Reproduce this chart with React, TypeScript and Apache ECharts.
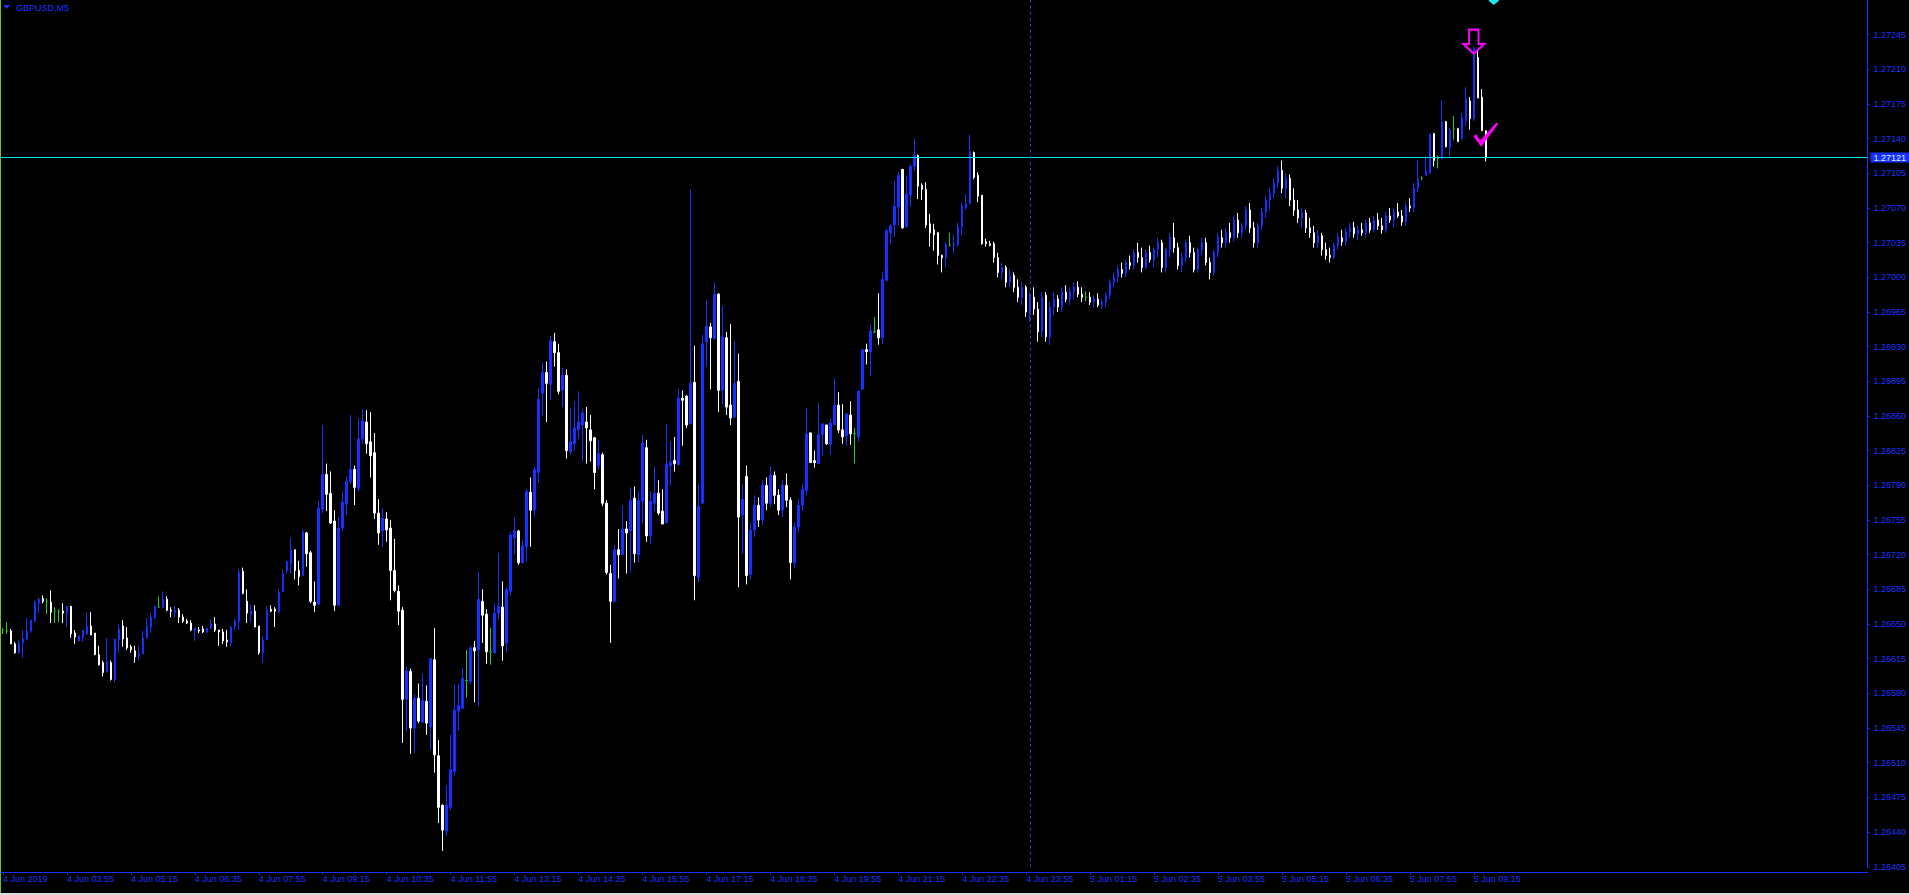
import React, { useEffect, useRef } from 'react';
import * as echarts from 'echarts';

// GBPUSD M5, bars from 4 Jun 2019 02:35, one bar every 5 minutes
const open: number[] = [
  1.26644, 1.26643, 1.26643, 1.26630, 1.26621, 1.26631, 1.26635, 1.26643, 1.26653, 1.26671,
  1.26676, 1.26673, 1.26672, 1.26663, 1.26663, 1.26663, 1.26661, 1.26668, 1.26641, 1.26633,
  1.26636, 1.26640, 1.26648, 1.26641, 1.26619, 1.26611, 1.26602, 1.26611, 1.26594, 1.26634,
  1.26648, 1.26636, 1.26627, 1.26623, 1.26618, 1.26620, 1.26636, 1.26647, 1.26657, 1.26667,
  1.26667, 1.26675, 1.26664, 1.26662, 1.26664, 1.26657, 1.26653, 1.26651, 1.26643, 1.26644,
  1.26645, 1.26642, 1.26646, 1.26650, 1.26644, 1.26642, 1.26634, 1.26631, 1.26648, 1.26653,
  1.26703, 1.26673, 1.26660, 1.26663, 1.26648, 1.26621, 1.26634, 1.26665, 1.26665, 1.26662,
  1.26683, 1.26704, 1.26711, 1.26725, 1.26704, 1.26699, 1.26742, 1.26722, 1.26672, 1.26670,
  1.26766, 1.26801, 1.26782, 1.26754, 1.26669, 1.26747, 1.26771, 1.26794, 1.26806, 1.26787,
  1.26837, 1.26854, 1.26834, 1.26823, 1.26762, 1.26744, 1.26756, 1.26747, 1.26704, 1.26683,
  1.26664, 1.26574, 1.26602, 1.26545, 1.26575, 1.26551, 1.26572, 1.26546, 1.26614, 1.26517,
  1.26467, 1.26441, 1.26465, 1.26501, 1.26562, 1.26565, 1.26593, 1.26592, 1.26626, 1.26624,
  1.26673, 1.26660, 1.26622, 1.26621, 1.26661, 1.26667, 1.26631, 1.26683, 1.26737, 1.26744,
  1.26712, 1.26728, 1.26783, 1.26765, 1.26803, 1.26883, 1.26904, 1.26892, 1.26935, 1.26924,
  1.26886, 1.26901, 1.26824, 1.26832, 1.26846, 1.26851, 1.26854, 1.26846, 1.26838, 1.26810,
  1.26821, 1.26772, 1.26701, 1.26673, 1.26725, 1.26720, 1.26746, 1.26744, 1.26777, 1.26720,
  1.26774, 1.26828, 1.26739, 1.26772, 1.26782, 1.26764, 1.26752, 1.26810, 1.26815, 1.26811,
  1.26878, 1.26880, 1.26852, 1.26894, 1.26697, 1.26772, 1.26935, 1.26950, 1.26938, 1.26983,
  1.26886, 1.26939, 1.26871, 1.26859, 1.26895, 1.26760, 1.26799, 1.26700, 1.26745, 1.26770,
  1.26755, 1.26790, 1.26772, 1.26800, 1.26780, 1.26765, 1.26790, 1.26775, 1.26712, 1.26748,
  1.26770, 1.26785, 1.26843, 1.26815, 1.26812, 1.26841, 1.26851, 1.26832, 1.26851, 1.26871,
  1.26846, 1.26840, 1.26861, 1.26842, 1.26839, 1.26887, 1.26927, 1.26925, 1.26945, 1.26947,
  1.26939, 1.26997, 1.27045, 1.27053, 1.27071, 1.27109, 1.27051, 1.27083, 1.27112, 1.27123,
  1.27093, 1.27089, 1.27054, 1.27048, 1.27045, 1.27022, 1.27020, 1.27033, 1.27032, 1.27033,
  1.27051, 1.27070, 1.27074, 1.27126, 1.27103, 1.27083, 1.27036, 1.27034, 1.27034, 1.27020,
  1.27005, 1.27010, 1.26995, 1.27002, 1.26990, 1.26980, 1.26990, 1.26965, 1.26980, 1.26968,
  1.26945, 1.26982, 1.26940, 1.26970, 1.26978, 1.26970, 1.26985, 1.26978, 1.26986, 1.26990,
  1.26983, 1.26980, 1.26980, 1.26975, 1.26978, 1.26972, 1.26975, 1.26982, 1.26995, 1.27000,
  1.27008, 1.27004, 1.27015, 1.27012, 1.27025, 1.27020, 1.27010, 1.27025, 1.27018, 1.27028,
  1.27035, 1.27010, 1.27028, 1.27040, 1.27030, 1.27012, 1.27020, 1.27035, 1.27025, 1.27008,
  1.27028, 1.27035, 1.27015, 1.27005, 1.27025, 1.27040, 1.27035, 1.27045, 1.27040, 1.27058,
  1.27045, 1.27052, 1.27068, 1.27050, 1.27035, 1.27052, 1.27066, 1.27078, 1.27085, 1.27095,
  1.27108, 1.27090, 1.27100, 1.27078, 1.27068, 1.27060, 1.27065, 1.27050, 1.27045, 1.27035,
  1.27042, 1.27028, 1.27022, 1.27020, 1.27032, 1.27040, 1.27036, 1.27046, 1.27050, 1.27044,
  1.27048, 1.27045, 1.27055, 1.27048, 1.27058, 1.27052, 1.27048, 1.27062, 1.27058, 1.27066,
  1.27062, 1.27056, 1.27072, 1.27070, 1.27090, 1.27100, 1.27103, 1.27105, 1.27145, 1.27120,
  1.27120, 1.27157, 1.27131, 1.27150, 1.27150, 1.27140, 1.27158, 1.27178, 1.27160, 1.27222,
  1.27182, 1.27148,
];
const high: number[] = [
  1.26646, 1.26652, 1.26645, 1.26632, 1.26634, 1.26644, 1.26656, 1.26654, 1.26674, 1.26677,
  1.26679, 1.26676, 1.26684, 1.26667, 1.26665, 1.26671, 1.26668, 1.26668, 1.26644, 1.26638,
  1.26644, 1.26662, 1.26662, 1.26641, 1.26628, 1.26613, 1.26636, 1.26613, 1.26635, 1.26650,
  1.26654, 1.26647, 1.26629, 1.26628, 1.26628, 1.26643, 1.26656, 1.26661, 1.26668, 1.26678,
  1.26683, 1.26678, 1.26667, 1.26668, 1.26666, 1.26660, 1.26655, 1.26654, 1.26646, 1.26647,
  1.26648, 1.26646, 1.26655, 1.26657, 1.26644, 1.26645, 1.26644, 1.26648, 1.26655, 1.26706,
  1.26707, 1.26685, 1.26670, 1.26669, 1.26648, 1.26638, 1.26668, 1.26669, 1.26667, 1.26685,
  1.26705, 1.26714, 1.26737, 1.26725, 1.26714, 1.26746, 1.26743, 1.26724, 1.26693, 1.26774,
  1.26851, 1.26812, 1.26804, 1.26765, 1.26758, 1.26784, 1.26799, 1.26861, 1.26810, 1.26858,
  1.26867, 1.26866, 1.26864, 1.26843, 1.26776, 1.26767, 1.26763, 1.26755, 1.26736, 1.26689,
  1.26667, 1.26607, 1.26605, 1.26579, 1.26590, 1.26600, 1.26588, 1.26615, 1.26646, 1.26533,
  1.26468, 1.26487, 1.26538, 1.26589, 1.26590, 1.26606, 1.26624, 1.26628, 1.26633, 1.26703,
  1.26685, 1.26665, 1.26646, 1.26671, 1.26722, 1.26693, 1.26687, 1.26743, 1.26758, 1.26745,
  1.26735, 1.26786, 1.26798, 1.26809, 1.26888, 1.26914, 1.26915, 1.26941, 1.26944, 1.26933,
  1.26909, 1.26907, 1.26868, 1.26875, 1.26885, 1.26867, 1.26869, 1.26861, 1.26839, 1.26836,
  1.26823, 1.26775, 1.26710, 1.26730, 1.26746, 1.26770, 1.26754, 1.26788, 1.26789, 1.26784,
  1.26841, 1.26836, 1.26784, 1.26809, 1.26795, 1.26786, 1.26852, 1.26834, 1.26839, 1.26888,
  1.26886, 1.26881, 1.27089, 1.26931, 1.26792, 1.26942, 1.26977, 1.26954, 1.26995, 1.26984,
  1.26971, 1.26945, 1.26953, 1.26935, 1.26923, 1.26791, 1.26810, 1.26752, 1.26780, 1.26778,
  1.26795, 1.26798, 1.26809, 1.26804, 1.26786, 1.26795, 1.26802, 1.26778, 1.26752, 1.26776,
  1.26792, 1.26868, 1.26843, 1.26825, 1.26873, 1.26853, 1.26851, 1.26857, 1.26898, 1.26884,
  1.26872, 1.26863, 1.26875, 1.26848, 1.26886, 1.26927, 1.26933, 1.26952, 1.26960, 1.26984,
  1.27006, 1.27049, 1.27054, 1.27097, 1.27106, 1.27109, 1.27103, 1.27114, 1.27140, 1.27124,
  1.27095, 1.27096, 1.27064, 1.27054, 1.27046, 1.27023, 1.27036, 1.27045, 1.27043, 1.27055,
  1.27075, 1.27084, 1.27144, 1.27127, 1.27106, 1.27083, 1.27039, 1.27037, 1.27036, 1.27025,
  1.27015, 1.27012, 1.27008, 1.27005, 1.26998, 1.26995, 1.26992, 1.26985, 1.26990, 1.26975,
  1.26985, 1.26985, 1.26975, 1.26985, 1.26982, 1.26990, 1.26992, 1.26990, 1.26995, 1.26996,
  1.26990, 1.26986, 1.26985, 1.26982, 1.26984, 1.26978, 1.26985, 1.26998, 1.27005, 1.27012,
  1.27015, 1.27018, 1.27022, 1.27028, 1.27035, 1.27030, 1.27028, 1.27032, 1.27030, 1.27040,
  1.27038, 1.27030, 1.27045, 1.27055, 1.27035, 1.27025, 1.27038, 1.27042, 1.27030, 1.27030,
  1.27040, 1.27040, 1.27020, 1.27028, 1.27045, 1.27048, 1.27050, 1.27055, 1.27062, 1.27065,
  1.27055, 1.27072, 1.27075, 1.27056, 1.27055, 1.27070, 1.27082, 1.27090, 1.27100, 1.27112,
  1.27118, 1.27105, 1.27104, 1.27090, 1.27078, 1.27070, 1.27068, 1.27060, 1.27052, 1.27048,
  1.27045, 1.27035, 1.27030, 1.27035, 1.27045, 1.27048, 1.27050, 1.27055, 1.27056, 1.27052,
  1.27055, 1.27058, 1.27060, 1.27062, 1.27065, 1.27060, 1.27066, 1.27070, 1.27070, 1.27075,
  1.27068, 1.27075, 1.27080, 1.27095, 1.27118, 1.27102, 1.27122, 1.27145, 1.27146, 1.27123,
  1.27179, 1.27158, 1.27151, 1.27163, 1.27151, 1.27166, 1.27192, 1.27182, 1.27233, 1.27229,
  1.27190, 1.27148,
];
const low: number[] = [
  1.26640, 1.26640, 1.26630, 1.26620, 1.26620, 1.26616, 1.26634, 1.26641, 1.26652, 1.26661,
  1.26671, 1.26660, 1.26651, 1.26651, 1.26652, 1.26651, 1.26647, 1.26636, 1.26630, 1.26633,
  1.26632, 1.26639, 1.26639, 1.26619, 1.26608, 1.26597, 1.26601, 1.26593, 1.26591, 1.26621,
  1.26627, 1.26624, 1.26621, 1.26611, 1.26614, 1.26620, 1.26636, 1.26641, 1.26655, 1.26667,
  1.26666, 1.26663, 1.26657, 1.26657, 1.26651, 1.26651, 1.26650, 1.26643, 1.26633, 1.26641,
  1.26641, 1.26641, 1.26645, 1.26642, 1.26628, 1.26630, 1.26627, 1.26628, 1.26644, 1.26644,
  1.26680, 1.26651, 1.26652, 1.26647, 1.26619, 1.26611, 1.26634, 1.26662, 1.26647, 1.26662,
  1.26682, 1.26701, 1.26701, 1.26695, 1.26689, 1.26699, 1.26708, 1.26671, 1.26662, 1.26670,
  1.26762, 1.26764, 1.26751, 1.26663, 1.26669, 1.26744, 1.26760, 1.26792, 1.26770, 1.26784,
  1.26832, 1.26822, 1.26798, 1.26756, 1.26730, 1.26728, 1.26733, 1.26674, 1.26682, 1.26649,
  1.26530, 1.26542, 1.26519, 1.26520, 1.26550, 1.26550, 1.26538, 1.26523, 1.26500, 1.26449,
  1.26421, 1.26436, 1.26462, 1.26497, 1.26542, 1.26565, 1.26576, 1.26589, 1.26571, 1.26567,
  1.26631, 1.26610, 1.26609, 1.26620, 1.26655, 1.26613, 1.26622, 1.26678, 1.26720, 1.26710,
  1.26711, 1.26713, 1.26728, 1.26758, 1.26793, 1.26860, 1.26854, 1.26876, 1.26910, 1.26882,
  1.26869, 1.26817, 1.26821, 1.26825, 1.26837, 1.26814, 1.26812, 1.26814, 1.26786, 1.26806,
  1.26769, 1.26700, 1.26631, 1.26671, 1.26696, 1.26720, 1.26701, 1.26702, 1.26712, 1.26712,
  1.26752, 1.26733, 1.26731, 1.26764, 1.26760, 1.26751, 1.26752, 1.26790, 1.26804, 1.26810,
  1.26830, 1.26848, 1.26852, 1.26674, 1.26692, 1.26771, 1.26910, 1.26887, 1.26938, 1.26864,
  1.26872, 1.26861, 1.26851, 1.26858, 1.26687, 1.26721, 1.26690, 1.26695, 1.26738, 1.26748,
  1.26750, 1.26765, 1.26768, 1.26771, 1.26760, 1.26758, 1.26768, 1.26695, 1.26706, 1.26742,
  1.26764, 1.26780, 1.26813, 1.26808, 1.26812, 1.26820, 1.26831, 1.26821, 1.26851, 1.26843,
  1.26832, 1.26830, 1.26831, 1.26812, 1.26834, 1.26887, 1.26912, 1.26900, 1.26944, 1.26932,
  1.26933, 1.26996, 1.27034, 1.27041, 1.27053, 1.27049, 1.27050, 1.27072, 1.27108, 1.27079,
  1.27078, 1.27050, 1.27031, 1.27027, 1.27013, 1.27005, 1.27010, 1.27031, 1.27024, 1.27031,
  1.27043, 1.27068, 1.27074, 1.27099, 1.27076, 1.27033, 1.27031, 1.27032, 1.27015, 1.27000,
  1.26998, 1.26990, 1.26990, 1.26985, 1.26975, 1.26972, 1.26960, 1.26955, 1.26962, 1.26935,
  1.26940, 1.26935, 1.26932, 1.26962, 1.26965, 1.26965, 1.26975, 1.26972, 1.26978, 1.26980,
  1.26975, 1.26976, 1.26972, 1.26970, 1.26970, 1.26968, 1.26970, 1.26978, 1.26990, 1.26995,
  1.27000, 1.27000, 1.27008, 1.27008, 1.27015, 1.27005, 1.27008, 1.27015, 1.27010, 1.27020,
  1.27005, 1.27005, 1.27020, 1.27025, 1.27008, 1.27005, 1.27015, 1.27020, 1.27005, 1.27005,
  1.27022, 1.27012, 1.26998, 1.27002, 1.27020, 1.27030, 1.27030, 1.27035, 1.27036, 1.27040,
  1.27040, 1.27048, 1.27045, 1.27030, 1.27030, 1.27048, 1.27060, 1.27068, 1.27080, 1.27090,
  1.27085, 1.27080, 1.27072, 1.27062, 1.27055, 1.27050, 1.27045, 1.27040, 1.27030, 1.27030,
  1.27022, 1.27018, 1.27015, 1.27018, 1.27028, 1.27032, 1.27032, 1.27040, 1.27040, 1.27038,
  1.27042, 1.27040, 1.27045, 1.27046, 1.27048, 1.27044, 1.27045, 1.27055, 1.27050, 1.27060,
  1.27052, 1.27052, 1.27066, 1.27066, 1.27086, 1.27098, 1.27103, 1.27105, 1.27112, 1.27110,
  1.27119, 1.27131, 1.27122, 1.27139, 1.27137, 1.27139, 1.27153, 1.27149, 1.27158, 1.27181,
  1.27148, 1.27117,
];
const close: number[] = [
  1.26644, 1.26643, 1.26630, 1.26621, 1.26631, 1.26635, 1.26643, 1.26654, 1.26672, 1.26675,
  1.26673, 1.26673, 1.26662, 1.26663, 1.26663, 1.26661, 1.26668, 1.26640, 1.26637, 1.26638,
  1.26644, 1.26648, 1.26639, 1.26619, 1.26609, 1.26601, 1.26612, 1.26594, 1.26635, 1.26645,
  1.26635, 1.26626, 1.26624, 1.26617, 1.26620, 1.26636, 1.26648, 1.26657, 1.26668, 1.26667,
  1.26675, 1.26664, 1.26663, 1.26664, 1.26657, 1.26653, 1.26651, 1.26644, 1.26646, 1.26643,
  1.26642, 1.26646, 1.26650, 1.26644, 1.26642, 1.26633, 1.26632, 1.26647, 1.26653, 1.26702,
  1.26681, 1.26661, 1.26663, 1.26647, 1.26621, 1.26634, 1.26664, 1.26663, 1.26663, 1.26682,
  1.26701, 1.26713, 1.26725, 1.26704, 1.26698, 1.26743, 1.26721, 1.26673, 1.26669, 1.26767,
  1.26801, 1.26781, 1.26752, 1.26669, 1.26747, 1.26773, 1.26794, 1.26806, 1.26788, 1.26837,
  1.26855, 1.26832, 1.26820, 1.26762, 1.26742, 1.26757, 1.26745, 1.26704, 1.26684, 1.26663,
  1.26574, 1.26603, 1.26545, 1.26575, 1.26552, 1.26573, 1.26550, 1.26615, 1.26518, 1.26465,
  1.26442, 1.26467, 1.26503, 1.26563, 1.26568, 1.26595, 1.26593, 1.26626, 1.26623, 1.26675,
  1.26659, 1.26622, 1.26622, 1.26661, 1.26668, 1.26628, 1.26685, 1.26740, 1.26744, 1.26712,
  1.26729, 1.26784, 1.26765, 1.26806, 1.26877, 1.26904, 1.26893, 1.26936, 1.26924, 1.26885,
  1.26901, 1.26825, 1.26834, 1.26848, 1.26854, 1.26863, 1.26848, 1.26835, 1.26803, 1.26822,
  1.26772, 1.26702, 1.26673, 1.26725, 1.26720, 1.26746, 1.26742, 1.26775, 1.26721, 1.26775,
  1.26833, 1.26739, 1.26774, 1.26782, 1.26762, 1.26751, 1.26811, 1.26813, 1.26812, 1.26878,
  1.26876, 1.26851, 1.26893, 1.26699, 1.26769, 1.26933, 1.26951, 1.26939, 1.26983, 1.26886,
  1.26940, 1.26869, 1.26858, 1.26893, 1.26758, 1.26776, 1.26699, 1.26745, 1.26770, 1.26755,
  1.26790, 1.26772, 1.26800, 1.26780, 1.26765, 1.26790, 1.26775, 1.26712, 1.26748, 1.26770,
  1.26786, 1.26842, 1.26813, 1.26813, 1.26841, 1.26852, 1.26832, 1.26853, 1.26871, 1.26846,
  1.26839, 1.26862, 1.26842, 1.26842, 1.26885, 1.26927, 1.26925, 1.26946, 1.26945, 1.26939,
  1.26998, 1.27047, 1.27052, 1.27072, 1.27103, 1.27050, 1.27084, 1.27112, 1.27123, 1.27092,
  1.27089, 1.27053, 1.27045, 1.27043, 1.27022, 1.27020, 1.27033, 1.27033, 1.27034, 1.27051,
  1.27072, 1.27074, 1.27127, 1.27101, 1.27082, 1.27034, 1.27034, 1.27032, 1.27020, 1.27005,
  1.27010, 1.26995, 1.27002, 1.26990, 1.26980, 1.26990, 1.26965, 1.26980, 1.26968, 1.26945,
  1.26980, 1.26940, 1.26970, 1.26978, 1.26970, 1.26985, 1.26978, 1.26986, 1.26990, 1.26983,
  1.26980, 1.26980, 1.26975, 1.26978, 1.26972, 1.26975, 1.26982, 1.26995, 1.27000, 1.27008,
  1.27004, 1.27015, 1.27012, 1.27025, 1.27020, 1.27010, 1.27025, 1.27018, 1.27028, 1.27035,
  1.27010, 1.27028, 1.27040, 1.27030, 1.27012, 1.27020, 1.27035, 1.27025, 1.27008, 1.27028,
  1.27035, 1.27015, 1.27005, 1.27025, 1.27040, 1.27035, 1.27045, 1.27040, 1.27058, 1.27045,
  1.27052, 1.27068, 1.27050, 1.27035, 1.27052, 1.27066, 1.27078, 1.27085, 1.27095, 1.27108,
  1.27090, 1.27100, 1.27078, 1.27068, 1.27060, 1.27065, 1.27050, 1.27045, 1.27035, 1.27042,
  1.27028, 1.27022, 1.27020, 1.27032, 1.27040, 1.27036, 1.27046, 1.27050, 1.27044, 1.27048,
  1.27045, 1.27055, 1.27048, 1.27058, 1.27052, 1.27048, 1.27062, 1.27058, 1.27066, 1.27062,
  1.27056, 1.27072, 1.27070, 1.27090, 1.27099, 1.27100, 1.27107, 1.27145, 1.27118, 1.27120,
  1.27157, 1.27132, 1.27149, 1.27150, 1.27137, 1.27161, 1.27180, 1.27160, 1.27231, 1.27181,
  1.27148, 1.27121,
];

const xTickLabels = [
  '4 Jun 2019', '4 Jun 03:55', '4 Jun 05:15', '4 Jun 06:35', '4 Jun 07:55', '4 Jun 09:15',
  '4 Jun 10:35', '4 Jun 11:55', '4 Jun 13:15', '4 Jun 14:35', '4 Jun 15:55', '4 Jun 17:15',
  '4 Jun 18:35', '4 Jun 19:55', '4 Jun 21:15', '4 Jun 22:35', '4 Jun 23:55', '5 Jun 01:15',
  '5 Jun 02:35', '5 Jun 03:55', '5 Jun 05:15', '5 Jun 06:35', '5 Jun 07:55', '5 Jun 09:15',
];
const barsPerLabel = 16;
const totalSlots = 467;
const yMin = 1.26405;
const yMax = 1.2728;
const yStep = 0.00035;
const bidPrice = 1.27121;
const daySeparatorBar = 257;
const signalBar = 368;
const signalHigh = 1.27233;
const checkBar = 371;
const checkPrice = 1.27144;
const topMarkerBar = 373;

const BLUE = '#1432ff';
const TEXT_BLUE = '#1c34ff';
const WHITE = '#ffffff';
const GREEN = '#22cc22';
const CYAN = '#00e6e6';
const MAGENTA = '#ff00ff';
const FONT = 'Liberation Sans';

export default function App() {
  const ref = useRef<HTMLDivElement>(null);
  useEffect(() => {
    if (!ref.current) return;
    const chart = echarts.init(ref.current, null, { renderer: 'svg' });
    const categories = Array.from({ length: totalSlots }, (_, i) => String(i));
    const candles = open.map((o, i) => [o, close[i], low[i], high[i]]);
    const showTick = (i: number) => i % barsPerLabel === 0 && i / barsPerLabel < xTickLabels.length;
    chart.setOption({
      animation: false,
      backgroundColor: '#000000',
      grid: { left: -0.5, right: 41.5, top: 0, bottom: 28.25, containLabel: false },
      xAxis: {
        type: 'category',
        data: categories,
        boundaryGap: true,
        offset: 5,
        axisLine: { lineStyle: { color: BLUE, width: 1 } },
        axisTick: { show: true, alignWithLabel: true, interval: showTick, length: 3, lineStyle: { color: BLUE } },
        axisLabel: {
          interval: showTick,
          formatter: (_v: string, i: number) => (showTick(i) ? xTickLabels[i / barsPerLabel] : ''),
          align: 'left',
          color: TEXT_BLUE,
          fontSize: 9,
          fontFamily: FONT,
          margin: 3,
        },
        splitLine: { show: false },
      },
      yAxis: {
        type: 'value',
        position: 'right',
        min: yMin,
        max: yMax,
        interval: yStep,
        axisLine: { show: true, lineStyle: { color: BLUE, width: 1 } },
        axisTick: { show: true, length: 2, lineStyle: { color: BLUE } },
        axisLabel: {
          formatter: (v: number) => v.toFixed(5),
          color: TEXT_BLUE,
          fontSize: 9,
          fontFamily: FONT,
          margin: 6,
          showMaxLabel: false,
        },
        splitLine: { show: false },
      },
      series: [
        {
          type: 'candlestick',
          data: candles,
          barWidth: 2,
          itemStyle: {
            color: BLUE,
            color0: WHITE,
            borderColor: BLUE,
            borderColor0: WHITE,
            borderColorDoji: GREEN,
            borderWidth: 1,
          },
          markLine: {
            silent: true,
            precision: 5,
            symbol: ['none', 'none'],
            animation: false,
            data: [
              {
                yAxis: bidPrice,
                lineStyle: { color: CYAN, type: 'solid', width: 1 },
                label: {
                  show: true,
                  position: 'end',
                  formatter: bidPrice.toFixed(5),
                  backgroundColor: BLUE,
                  color: '#e8ecff',
                  fontSize: 9,
                  fontFamily: FONT,
                  padding: [1, 3, 0, 3],
                  distance: 3,
                },
              },
              {
                xAxis: String(daySeparatorBar),
                lineStyle: { color: '#3a3ea8', type: [3, 3], width: 1 },
                label: { show: false },
              },
            ],
          },
          markPoint: {
            silent: true,
            precision: 5,
            animation: false,
            label: { show: false },
            data: [
              {
                coord: [String(signalBar), signalHigh],
                symbol: 'path://M6,0 L16,0 L16,15 L22,15 L11,25 L0,15 L6,15 Z',
                symbolSize: [21, 24],
                symbolOffset: [0, -5],
                itemStyle: { color: 'rgba(0,0,0,0)', borderColor: MAGENTA, borderWidth: 2 },
              },
              {
                coord: [String(checkBar), checkPrice],
                symbol: 'path://M0,13 L3,11 L7,17 L23,0 L25,1 L8,23 Z',
                symbolSize: [25, 24],
                itemStyle: { color: MAGENTA },
              },
              {
                coord: [String(topMarkerBar), yMax],
                symbol: 'path://M0,0 L10,0 L10,1 L5,5 L0,1 Z',
                symbolSize: [10, 5],
                symbolOffset: [0, 2.5],
                itemStyle: { color: '#1ee6e6' },
              },
            ],
          },
        },
      ],
      graphic: [
        { type: 'rect', left: 0, top: 0, shape: { x: 0, y: 0, width: 1, height: 893 }, style: { fill: '#78be20' }, silent: true },
        { type: 'rect', left: 0, top: 893, shape: { x: 0, y: 0, width: 1909, height: 2 }, style: { fill: '#dcdcdc' }, silent: true },
        { type: 'polygon', shape: { points: [[3, 5], [10, 5], [6.5, 9]] }, style: { fill: TEXT_BLUE }, silent: true },
        {
          type: 'text', x: 16, y: 7.5,
          style: { text: 'GBPUSD,M5', fill: TEXT_BLUE, font: `9px "${FONT}"`, verticalAlign: 'middle', align: 'left' },
          silent: true,
        },
      ],
    });
    return () => chart.dispose();
  }, []);
  return (
    <div style={{ position: 'fixed', left: 0, top: 0, width: 1909, height: 895, background: '#000' }}>
      <div ref={ref} style={{ width: 1909, height: 895 }} />
    </div>
  );
}
